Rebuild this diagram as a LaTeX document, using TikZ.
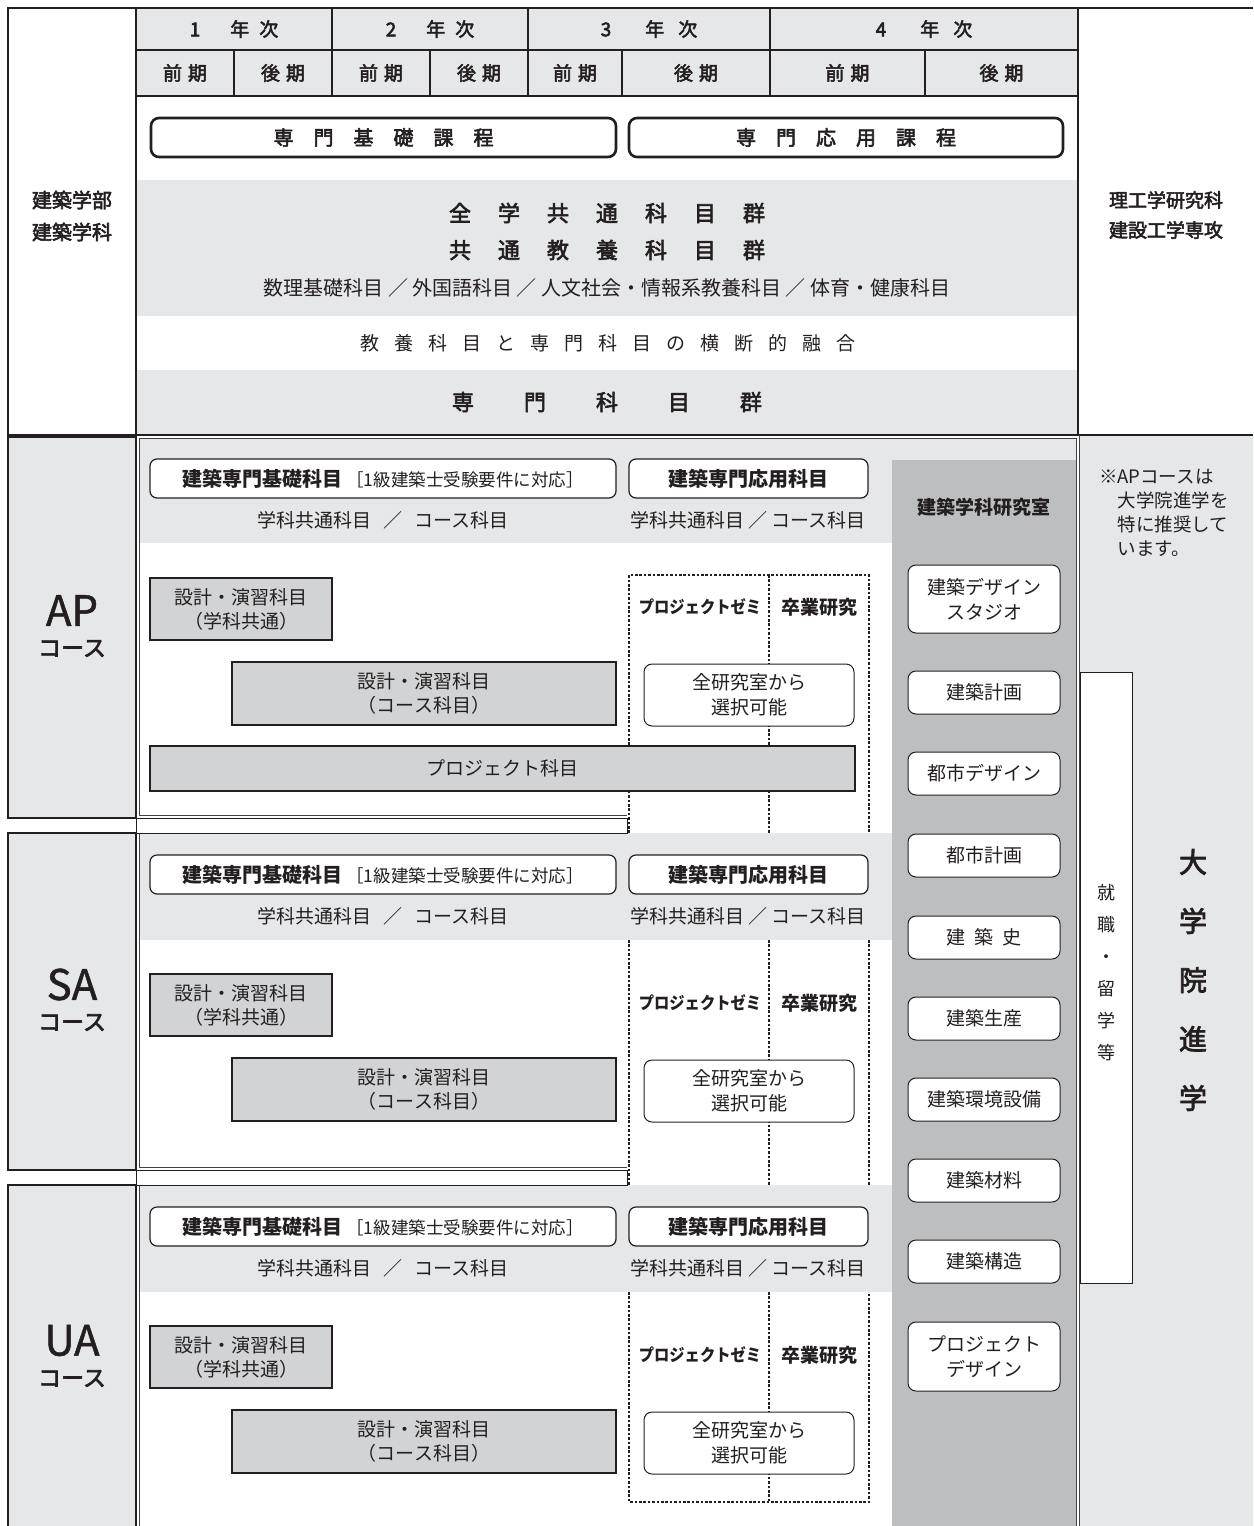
\documentclass[tikz,border=0pt]{standalone}
\usepackage{fontspec}
\setmainfont{Noto Sans CJK JP}
\newfontfamily\med{Noto Sans CJK JP}[FakeBold=2.8]
\newfontfamily\semi{Noto Sans CJK JP}[FakeBold=1.2]
\definecolor{lg}{HTML}{E6E7E8}
\definecolor{dg}{HTML}{BCBEC0}
\definecolor{mg}{HTML}{D1D3D4}
\definecolor{ink}{HTML}{231F20}
\ExplSyntaxOn
\NewDocumentCommand\spc{mm}{
  \seq_clear:N \l_tmpa_seq
  \tl_map_inline:nn {#2}{\seq_put_right:Nn \l_tmpa_seq {##1}}
  \seq_use:Nn \l_tmpa_seq {\hspace{#1}}
}
\ExplSyntaxOff
\newcommand\fs[1]{\fontsize{#1}{#1}\selectfont}
\newcommand\boxat[7]{\node[#1,minimum width={((#5)-(#3))*1pt},minimum height={((#6)-(#4))*1pt}] (#2) at ({((#3)+(#5))/2},{((#4)+(#6))/2}) {#7};}
\tikzset{
  base/.style={inner sep=0pt, outer sep=0pt, text=ink, font=\fs{19}},
  hcell/.style={base, draw=ink, line width=1.3pt, fill=lg, font=\med\fs{19}},
  course/.style={base, draw=ink, line width=2.6pt, rounded corners=8pt, fill=white, font=\med\fs{20}},
  subj/.style={base, draw=ink, line width=1.2pt, rounded corners=7pt, fill=white},
  greybox/.style={base, draw=ink, line width=1.4pt, fill=mg, align=center, font=\fontsize{19}{24}\selectfont},
  labbox/.style={base, draw=ink, line width=1pt, rounded corners=8pt, fill=white, align=center, font=\fontsize{19}{25}\selectfont},
  lblbox/.style={base, draw=ink, line width=1.4pt, fill=lg},
  dotl/.style={draw=ink, line width=1.1pt, dash pattern=on 2.6pt off 1.8pt},
  frame/.style={draw=ink, line width=1.4pt},
  thinframe/.style={draw=ink!85, line width=0.9pt},
}
\newcommand\course[4]{%
  \boxat{lblbox}{#3-box}{8}{#1}{136}{#2}{}
  \node[base,font=\semi\fs{42}] (#3-name) at (72,{((#1)+(#2))/2-17}) {#4};
  \node[base,font=\med\fs{23}] (#3-cs) at (72,{((#1)+(#2))/2+21}) {コース};
  \boxat{subj}{#3-kiso}{150}{#1+22}{616}{#1+61}{{\bfseries\fs{20}建築専門基礎科目}\hspace{4pt}{\fs{17.5}［1級建築士受験要件に対応］}}
  \boxat{subj}{#3-ouyo}{629}{#1+22}{868}{#1+61}{\bfseries\fs{20}建築専門応用科目}
  \node[base] (#3-sub1) at (383,{#1+83}) {学科共通科目\hspace{12pt}／\hspace{12pt}コース科目};
  \node[base] (#3-sub2) at (748,{#1+83}) {学科共通科目 ／ コース科目};
  \boxat{greybox}{#3-d1}{150}{#1+141}{332}{#1+203}{設計・演習科目\\（学科共通）}
  \boxat{greybox}{#3-d2}{232}{#1+225}{616}{#1+288}{設計・演習科目\\（コース科目）}
  \node[base,font=\bfseries\fs{17}] (#3-zemi) at (700,{#1+170}) {\scalebox{0.9}[1]{プロジェクトゼミ}};
  \node[base,font=\bfseries\fs{19}] (#3-sotsu) at (819,{#1+170}) {卒業研究};
  \boxat{labbox}{#3-all}{644}{#1+227}{854}{#1+289}{全研究室から\\選択可能}
}
\begin{document}
\begin{tikzpicture}[x=1pt,y=-1pt]
\useasboundingbox (0,0) rectangle (1253,1526);
% ---------- top section backgrounds
\fill[lg] (137,180) rectangle (1077,316);
\fill[lg] (137,370) rectangle (1077,434);
% header cells
\boxat{hcell}{y1}{136}{8}{332}{50}{1\hspace{30pt}年\hspace{10pt}次\hspace{14pt}}
\boxat{hcell}{y2}{332}{8}{528}{50}{2\hspace{30pt}年\hspace{10pt}次\hspace{8pt}}
\boxat{hcell}{y3}{528}{8}{770}{50}{3\hspace{34pt}年\hspace{14pt}次}
\boxat{hcell}{y4}{770}{8}{1078}{50}{4\hspace{34pt}年\hspace{14pt}次}
\boxat{hcell}{s1}{136}{50}{234}{96}{前\hspace{6pt}期}
\boxat{hcell}{s2}{234}{50}{332}{96}{後\hspace{6pt}期}
\boxat{hcell}{s3}{332}{50}{430}{96}{前\hspace{6pt}期}
\boxat{hcell}{s4}{430}{50}{528}{96}{後\hspace{6pt}期}
\boxat{hcell}{s5}{528}{50}{622}{96}{前\hspace{6pt}期}
\boxat{hcell}{s6}{622}{50}{770}{96}{後\hspace{6pt}期}
\boxat{hcell}{s7}{770}{50}{925}{96}{前\hspace{6pt}期}
\boxat{hcell}{s8}{925}{50}{1078}{96}{後\hspace{6pt}期}
\boxat{course}{kiso}{151}{118}{616}{157}{\spc{20pt}{専門基礎課程}}
\boxat{course}{ouyou}{629}{118}{1063}{157}{\spc{20pt}{専門応用課程}}
\node[base,font=\med\fs{22}] (zen) at (607,213) {\spc{27pt}{全学共通科目群}};
\node[base,font=\med\fs{22}] (kyo) at (607,250) {\spc{27pt}{共通教養科目群}};
\node[base,font=\fs{20}] (kyosub) at (607,288) {数理基礎科目 ／ 外国語科目 ／ 人文社会・情報系教養科目 ／ 体育・健康科目};
\node[base,font=\fs{19}] (fusion) at (608,343) {\spc{15pt}{教養科目と専門科目の横断的融合}};
\node[base,font=\med\fs{22}] (senmon) at (607,402) {\spc{50pt}{専門科目群}};
\node[base,font=\med\fontsize{20}{32}\selectfont,align=center] (dept) at (72,216) {建築学部\\建築学科};
\node[base,font=\med\fontsize{19}{30}\selectfont,align=center] (grad) at (1166,215) {理工学研究科\\建設工学専攻};
% top section lines
\draw[frame] (1253,8) -- (8,8) -- (8,435) -- (1253,435);
\draw[frame] (136,8) -- (136,435);
\draw[frame] (1078,8) -- (1078,435);
% ---------- course section backgrounds
\fill[lg] (1080,436) rectangle (1253,1530);
\fill[lg] (140,438) rectangle (1076,543);
\fill[lg] (140,833) rectangle (1076,940);
\fill[lg] (140,1185) rectangle (1076,1292);
\fill[dg] (892,460) rectangle (1076,1530);
% dotted project columns
\draw[dotl] (629,833) -- (629,575) -- (869,575) -- (869,833);
\draw[dotl] (769,575) -- (769,833);
\draw[dotl] (629,940) -- (629,1185);
\draw[dotl] (769,940) -- (769,1185);
\draw[dotl] (869,940) -- (869,1185);
\draw[dotl] (629,1292) -- (629,1502) -- (869,1502) -- (869,1292);
\draw[dotl] (769,1292) -- (769,1502);
% frames
\draw[thinframe] (1079.5,435) -- (1079.5,1530);
\draw[thinframe] (1076,438) -- (1076,1530);
\draw[thinframe] (627,815) -- (139.5,815) -- (139.5,438) -- (1076,438);
\draw[thinframe] (627,1167) -- (139.5,1167) -- (139.5,834);
\draw[thinframe] (139.5,1186) -- (139.5,1530);
\filldraw[fill=white, draw=ink, line width=1pt] (136,818) rectangle (627,833);
\filldraw[fill=white, draw=ink, line width=1pt] (136,1170) rectangle (627,1185);
% courses
\course{437}{818}{AP}{AP}
\course{833}{1170}{SA}{SA}
\course{1185}{1530}{UA}{UA}
\boxat{greybox}{AP-proj}{150}{746}{855}{791}{プロジェクト科目}
% lab column
\node[base,font=\bfseries\fs{19}] (labt) at (984,507) {建築学科研究室};
\boxat{labbox}{lab1}{908}{565}{1060}{633}{建築デザイン\\スタジオ}
\boxat{labbox}{lab2}{908}{671}{1060}{714}{建築計画}
\boxat{labbox}{lab3}{908}{752}{1060}{795}{都市デザイン}
\boxat{labbox}{lab4}{908}{834}{1060}{877}{都市計画}
\boxat{labbox}{lab5}{908}{916}{1060}{959}{\spc{9pt}{建築史}}
\boxat{labbox}{lab6}{908}{997}{1060}{1040}{建築生産}
\boxat{labbox}{lab7}{908}{1078}{1060}{1121}{建築環境設備}
\boxat{labbox}{lab8}{908}{1159}{1060}{1202}{建築材料}
\boxat{labbox}{lab9}{908}{1240}{1060}{1283}{建築構造}
\boxat{labbox}{lab10}{908}{1322}{1060}{1391}{プロジェクト\\デザイン}
% right column
\node[base,font=\fontsize{18.5}{24}\selectfont,align=left,anchor=north west] (note) at (1099,469) {※APコースは\\\hspace*{1em}大学院進学を\\\hspace*{1em}特に推奨して\\\hspace*{1em}います。};
\boxat{base,draw=ink,line width=0.9pt,fill=white}{shubox}{1080}{672}{1132}{1283}{}
\node[base,font=\fontsize{18}{32}\selectfont,align=center] (shu) at (1106,973) {就\\職\\・\\留\\学\\等};
\node[base,font=\med\fontsize{28}{59}\selectfont,align=center] (grad2) at (1193,980) {大\\学\\院\\進\\学};
\end{tikzpicture}
\end{document}
